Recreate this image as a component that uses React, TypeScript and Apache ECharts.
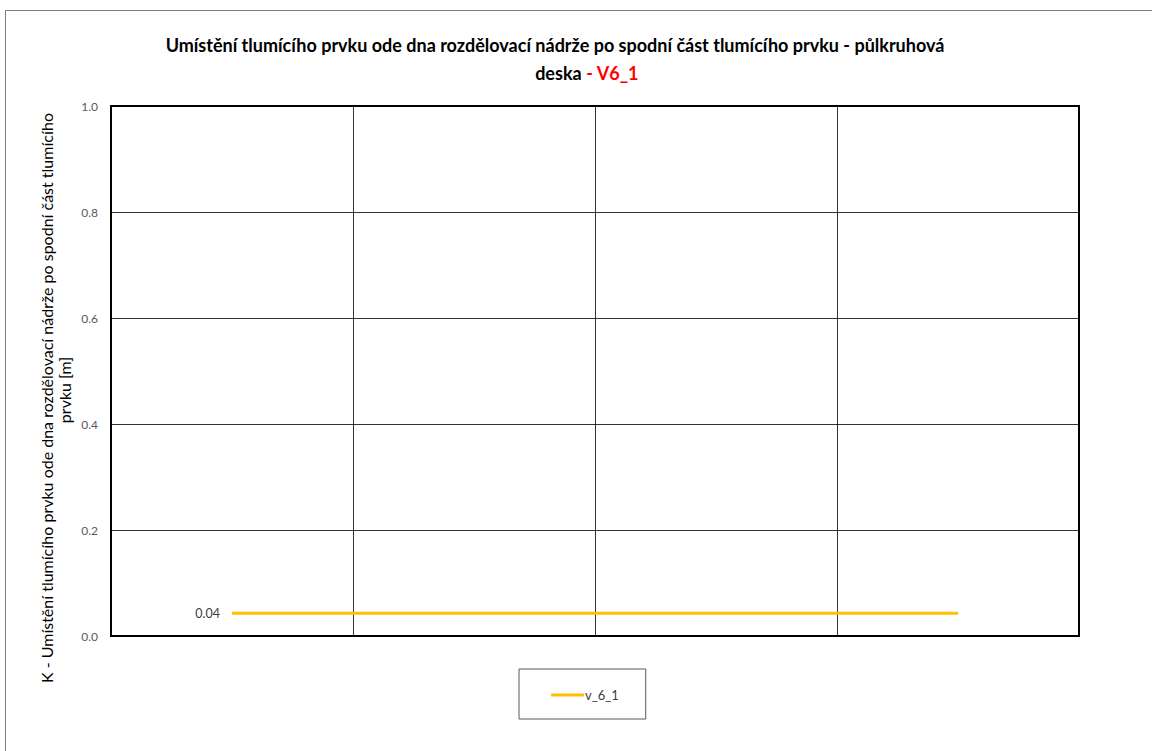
import React, { useEffect, useRef } from "react";
import * as echarts from "echarts";

const categories = ["1", "2", "3", "4"];
const seriesName = "v_6_1";
const seriesValues = [0.043, 0.043, 0.043, 0.043];
const yTicks = { min: 0, max: 1.0, interval: 0.2 };
const titleLine1 = "Umístění tlumícího prvku ode dna rozdělovací nádrže po spodní část tlumícího prvku - půlkruhová";
const titleLine2a = "deska ";
const titleLine2b = "- V6_1";
const yName1 = "K - Umístění tlumícího prvku ode dna rozdělovací nádrže po spodní část tlumícího";
const yName2 = "prvku [m]";

const FONT = "Lato, 'Open Sans', sans-serif";

export default function App() {
  const ref = useRef<HTMLDivElement>(null);
  useEffect(() => {
    document.body.style.margin = "0";
    const chart = echarts.init(ref.current!, null, { renderer: "svg" });
    chart.setOption({
      animation: false,
      backgroundColor: "#fff",
      grid: {
        left: 111,
        top: 106,
        right: 73,
        bottom: 115,
        show: true,
        borderColor: "#000",
        borderWidth: 2,
        containLabel: false,
      },
      xAxis: {
        type: "category",
        data: categories,
        boundaryGap: true,
        axisLine: { show: false },
        axisTick: { show: false },
        axisLabel: { show: false },
        splitLine: { show: true, lineStyle: { color: "#000", width: 0.8 } },
      },
      yAxis: {
        type: "value",
        min: yTicks.min,
        max: yTicks.max,
        interval: yTicks.interval,
        axisLine: { show: false },
        axisTick: { show: false },
        axisLabel: {
          color: "#595959",
          fontSize: 12,
          fontFamily: FONT,
          margin: 13,
          formatter: (v: number) => v.toFixed(1),
        },
        splitLine: { show: true, lineStyle: { color: "#000", width: 0.8 } },
      },
      legend: {
        data: [{ name: seriesName, icon: "rect" }],
        left: 519,
        top: 669,
        orient: "horizontal",
        borderColor: "#595959",
        borderWidth: 1,
        padding: [19, 27, 17, 32],
        itemWidth: 33,
        itemHeight: 3,
        itemGap: 0,
        textStyle: { color: "#404040", fontSize: 13, fontFamily: FONT, padding: [0, 0, 0, -4], lineHeight: 14 },
      },
      series: [
        {
          name: seriesName,
          type: "line",
          data: seriesValues,
          symbol: "circle",
          symbolSize: 0,
          lineStyle: { color: "#FFC000", width: 3 },
          itemStyle: { color: "#FFC000" },
          label: {
            show: true,
            position: "left",
            distance: 12,
            color: "#404040",
            fontSize: 12.5,
            fontFamily: FONT,
            formatter: (p: any) => (p.dataIndex === 0 ? p.value.toFixed(2) : ""),
          },
        },
      ],
      graphic: [
        {
          type: "rect",
          shape: { x: 5.5, y: 10.5, width: 1300, height: 1000 },
          style: { fill: "none", stroke: "#7f7f7f", lineWidth: 1 },
          silent: true,
          z: -1,
        },
        {
          type: "text",
          x: 555,
          y: 45,
          style: {
            text: titleLine1,
            font: `bold 18px ${FONT}`,
            fill: "#000",
            align: "center",
            verticalAlign: "middle",
          },
        },
        {
          type: "text",
          x: 587,
          y: 73,
          style: {
            text: `{a|${titleLine2a}}{b|${titleLine2b}}`,
            font: `bold 18px ${FONT}`,
            align: "center",
            verticalAlign: "middle",
            rich: {
              a: { fill: "#000", color: "#000", fontWeight: "bold", fontSize: 18, fontFamily: FONT },
              b: { fill: "#FF0000", color: "#FF0000", fontWeight: "bold", fontSize: 18, fontFamily: FONT },
            },
          },
        },
        {
          type: "text",
          x: 46,
          y: 398,
          rotation: Math.PI / 2,
          style: {
            text: yName1,
            font: `16px ${FONT}`,
            fill: "#000",
            align: "center",
            verticalAlign: "middle",
          },
        },
        {
          type: "text",
          x: 64,
          y: 390,
          rotation: Math.PI / 2,
          style: {
            text: yName2,
            font: `16px ${FONT}`,
            fill: "#000",
            align: "center",
            verticalAlign: "middle",
          },
        },
      ],
    });
    return () => chart.dispose();
  }, []);
  return <div ref={ref} style={{ position: "fixed", left: 0, top: 0, width: 1152, height: 751 }} />;
}
